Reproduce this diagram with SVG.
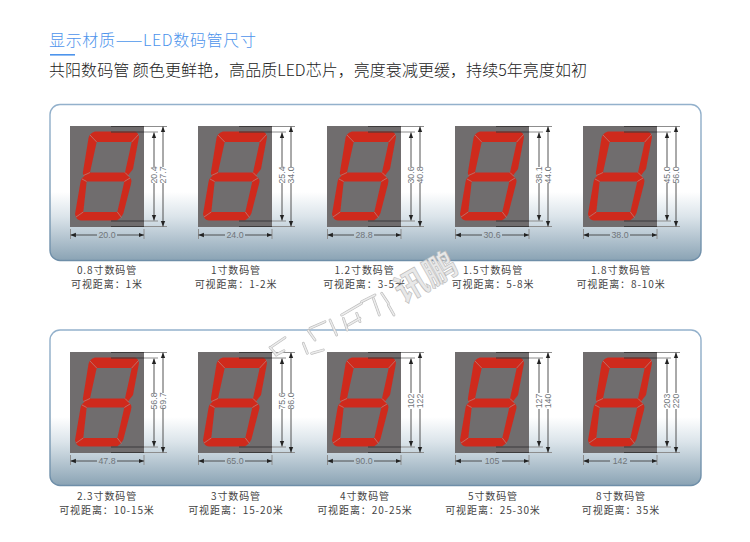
<svg xmlns="http://www.w3.org/2000/svg" xmlns:xlink="http://www.w3.org/1999/xlink" width="750" height="542" viewBox="0 0 750 542">
<style>
text{font-family:"Liberation Sans","Noto Sans CJK SC",sans-serif}
.cn{font-family:"Noto Sans CJK SC",sans-serif}
.h1{font-size:16px;fill:#4d94ec;font-weight:300}
.h2{font-size:16px;fill:#222;font-weight:300}
.panel{fill:url(#pg);stroke:url(#ps);stroke-width:1.4}
.body{fill:#6f6d6e}
.seg{fill:#cf2a1e;fill-rule:evenodd}
.sep{stroke:#b97d76;stroke-width:.8;fill:none}
.dk{stroke:#3c3a3b;stroke-width:1.2;fill:none}
.gl{stroke:#8d8d8d;stroke-width:1;fill:none}
.ar{stroke:#444;stroke-width:.9;fill:none}
.as{marker-start:url(#a)}
.ae{marker-end:url(#a)}
.d{font-size:8.800px;fill:#70757a;text-anchor:middle;font-family:"Liberation Sans",sans-serif}
.l{font-family:"Noto Sans CJK SC",sans-serif;font-size:10px;letter-spacing:.9px;fill:#444;text-anchor:middle}
.wm{stroke:#bdbdbd;stroke-width:2.800;stroke-linecap:round;fill:none}
.wm2{stroke:#ececec;stroke-width:1.500;stroke-linecap:round;fill:none}
.wt{font-family:"Noto Sans CJK SC",sans-serif;font-size:33px;font-weight:700;fill:#e8e8e8;stroke:#b8b8b8;stroke-width:.6}
</style>
<defs>
<linearGradient id="pg" x1="0" y1="0" x2="0" y2="1">
<stop offset="0" stop-color="#ffffff"/><stop offset=".56" stop-color="#ffffff"/><stop offset=".72" stop-color="#dbe4ea"/><stop offset="1" stop-color="#8aa3b4"/>
</linearGradient>
<linearGradient id="ps" x1="0" y1="0" x2="0" y2="1">
<stop offset="0" stop-color="#93b1cc"/><stop offset="1" stop-color="#6e8ea8"/>
</linearGradient>
<filter id="soft" x="-5%" y="-5%" width="110%" height="110%"><feGaussianBlur stdDeviation=".35"/></filter>
<marker id="a" viewBox="0 0 6 6" refX="6" refY="3" markerWidth="6" markerHeight="6" orient="auto-start-reverse"><path d="M0,0.6 L0,5.400 L6,3Z" fill="#222"/></marker>
<path id="strokes" d="M35,320 L75,293 M50,345 L30,322 M48,345 L72,332 M150,265 L195,245 M145,272 L165,300 M130,310 L142,340 M155,340 L190,330 M210,240 L230,285 M245,225 L305,190 M250,235 L262,270 M290,220 L300,245 M265,255 L300,235 M305,185 L345,165 M340,175 L358,225 M365,160 L385,190 M385,195 L402,225"/>
<g id="unit" filter="url(#soft)">
<rect class="body" width="74" height="101"/>
<path class="seg" d="M25,5.500 L65,5.500 Q68,6 69,11 L63,43 L58,49.500 L61,53 Q62,55 61,58 L53.500,87 Q52,91 47,94.500 L11,94.500 Q6,94 5,88 L10.500,56 Q11,52 14,50.500 L12.800,47 L18.500,12 Q19.500,7 25,5.500Z M26.700,16 L61.700,16 L55,46.500 L20,46.500Z M16.700,55.500 L54.300,55.500 L47.300,86 L13.300,86Z"/>
<path class="sep" d="M20,9 L26.700,16 M68.500,8.500 L61.700,16 M20,46.500 L13.500,49.500 M55,46.500 L59,50.500 M16.700,55.500 L12,53 M54.300,55.500 L60,52 M13.300,86 L6,91 M47.300,86 L51.500,91.500"/>
<path class="dk" d="M41,.5 H74 M41,6 H74 M41,95 H74 M41,100.500 H74"/>
<path class="gl" d="M74,.5 H97 M74,6 H88 M74,95 H88 M74,100.500 H97"/>
<path class="ar as" d="M84,6.500 V41"/><path class="ar ae" d="M84,57 V94.500"/>
<path class="ar as" d="M93,.5 V41"/><path class="ar ae" d="M93,57 V100.500"/>
<path class="gl" d="M.5,103 V113 M74,103 V113"/>
<path class="ar as" d="M.5,109 H27"/><path class="ar ae" d="M47,109 H74"/>
</g>
</defs>
<rect width="750" height="542" fill="#fff"/>
<g id="header">
<text class="h1 cn" x="49" y="46" textLength="207">显示材质——LED数码管尺寸</text>
<rect x="50" y="54" width="25" height="1.600" fill="#4d94ec"/>
<text class="h2 cn" x="49" y="76" textLength="538">共阳数码管 颜色更鲜艳，高品质LED芯片，亮度衰减更缓，持续5年亮度如初</text>
</g>
<rect id="panel-1" class="panel" x="50" y="104.500" width="651" height="156" rx="10"/>
<rect id="panel-2" class="panel" x="50" y="330" width="651" height="155.500" rx="10"/>
<g id="u08"><use xlink:href="#unit" href="#unit" x="70" y="126"/><text class="d" x="107" y="238">20.0</text><text class="d" transform="translate(157,175) rotate(-90)">20.4</text><text class="d" transform="translate(166,175) rotate(-90)">27.7</text><text class="l" x="107" y="274">0.8寸数码管</text><text class="l" x="107" y="288">可视距离：1米</text></g>
<g id="u10"><use xlink:href="#unit" href="#unit" x="198" y="126"/><text class="d" x="235" y="238">24.0</text><text class="d" transform="translate(285,175) rotate(-90)">25.4</text><text class="d" transform="translate(294,175) rotate(-90)">34.0</text><text class="l" x="236" y="274">1寸数码管</text><text class="l" x="236" y="288">可视距离：1-2米</text></g>
<g id="u12"><use xlink:href="#unit" href="#unit" x="327" y="126"/><text class="d" x="364" y="238">28.8</text><text class="d" transform="translate(414,175) rotate(-90)">30.6</text><text class="d" transform="translate(423,175) rotate(-90)">40.8</text><text class="l" x="364.500" y="274">1.2寸数码管</text><text class="l" x="364.500" y="288">可视距离：3-5米</text></g>
<g id="u15"><use xlink:href="#unit" href="#unit" x="455" y="126"/><text class="d" x="492" y="238">30.6</text><text class="d" transform="translate(542,175) rotate(-90)">38.1</text><text class="d" transform="translate(551,175) rotate(-90)">44.0</text><text class="l" x="493" y="274">1.5寸数码管</text><text class="l" x="493" y="288">可视距离：5-8米</text></g>
<g id="u18"><use xlink:href="#unit" href="#unit" x="583" y="126"/><text class="d" x="620" y="238">38.0</text><text class="d" transform="translate(670,175) rotate(-90)">45.0</text><text class="d" transform="translate(679,175) rotate(-90)">56.0</text><text class="l" x="621" y="274">1.8寸数码管</text><text class="l" x="621" y="288">可视距离：8-10米</text></g>
<g id="u23"><use xlink:href="#unit" href="#unit" x="70" y="352"/><text class="d" x="107" y="464">47.8</text><text class="d" transform="translate(157,401) rotate(-90)">56.8</text><text class="d" transform="translate(166,401) rotate(-90)">69.7</text><text class="l" x="107" y="500">2.3寸数码管</text><text class="l" x="107" y="514">可视距离：10-15米</text></g>
<g id="u30"><use xlink:href="#unit" href="#unit" x="198" y="352"/><text class="d" x="235" y="464">65.0</text><text class="d" transform="translate(285,401) rotate(-90)">75.6</text><text class="d" transform="translate(294,401) rotate(-90)">86.0</text><text class="l" x="236" y="500">3寸数码管</text><text class="l" x="236" y="514">可视距离：15-20米</text></g>
<g id="u40"><use xlink:href="#unit" href="#unit" x="327" y="352"/><text class="d" x="364" y="464">90.0</text><text class="d" transform="translate(414,401) rotate(-90)">102</text><text class="d" transform="translate(423,401) rotate(-90)">122</text><text class="l" x="365" y="500">4寸数码管</text><text class="l" x="365" y="514">可视距离：20-25米</text></g>
<g id="u50"><use xlink:href="#unit" href="#unit" x="455" y="352"/><text class="d" x="492" y="464">105</text><text class="d" transform="translate(542,401) rotate(-90)">127</text><text class="d" transform="translate(551,401) rotate(-90)">140</text><text class="l" x="493" y="500">5寸数码管</text><text class="l" x="493" y="514">可视距离：25-30米</text></g>
<g id="u80"><use xlink:href="#unit" href="#unit" x="583" y="352"/><text class="d" x="620" y="464">142</text><text class="d" transform="translate(670,401) rotate(-90)">203</text><text class="d" transform="translate(679,401) rotate(-90)">220</text><text class="l" x="621" y="500">8寸数码管</text><text class="l" x="621" y="514">可视距离：35米</text></g>
<g id="watermark">
<g transform="translate(260,240) scale(.3333)">
<use xlink:href="#strokes" href="#strokes" class="wm" style="stroke-width:8.400"/>
<use xlink:href="#strokes" href="#strokes" class="wm2" style="stroke-width:4.500"/>
</g>
<text class="wt" transform="translate(403,304) rotate(-30)">讯鹏</text>
</g>
</svg>
